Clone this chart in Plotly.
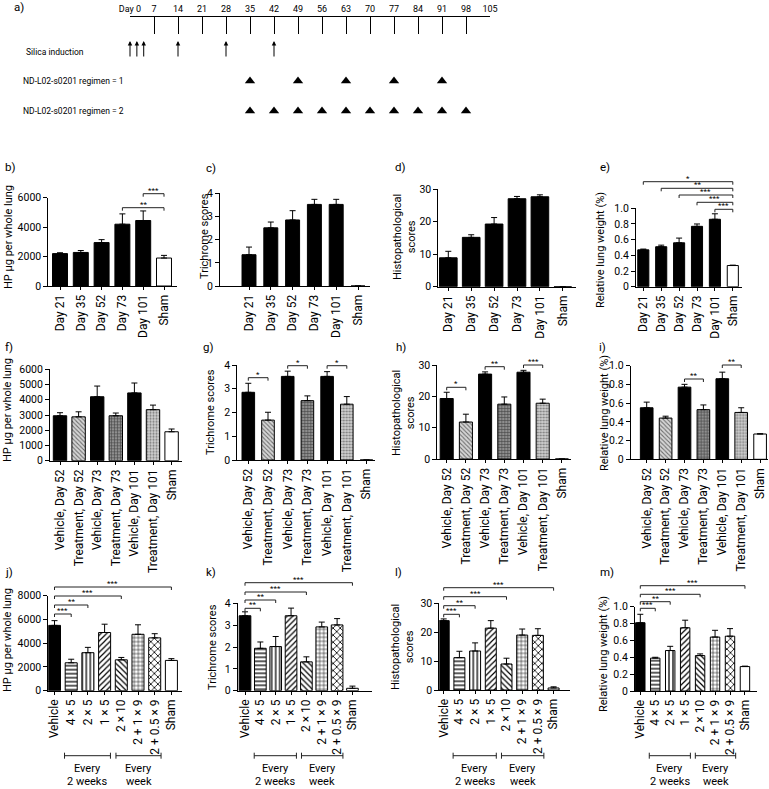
import plotly.graph_objects as go

W, H = 769, 789
FONT = "Roboto, Liberation Sans, Lato, sans-serif"

# ---------------- DATA ----------------
timeline_days = [0, 7, 14, 21, 28, 35, 42, 49, 56, 63, 70, 77, 84, 91, 98, 105]
timeline_labels = ["Day 0"] + [str(d) for d in timeline_days[1:]]
silica_days = [0, 2, 4, 14, 28, 42]
regimen1_days = [35, 49, 63, 77, 91]
regimen2_days = [35, 42, 49, 56, 63, 70, 77, 84, 91, 98]

time_cats = ["Day 21", "Day 35", "Day 52", "Day 73", "Day 101", "Sham"]
b_hp = [2200, 2280, 2950, 4200, 4450, 1900]
b_err = [60, 130, 200, 700, 650, 180]
c_tri = [1.35, 2.51, 2.85, 3.52, 3.52, 0]
c_err = [0.33, 0.25, 0.40, 0.22, 0.22, 0]
d_hist = [8.9, 15.2, 19.3, 27.1, 27.7, 0]
d_err = [2.0, 0.8, 2.0, 0.7, 0.6, 0]
e_rlw = [0.47, 0.51, 0.56, 0.77, 0.86, 0.27]
e_err = [0.01, 0.02, 0.06, 0.03, 0.07, 0.005]

trt_cats = ["Vehicle, Day 52", "Treatment, Day 52", "Vehicle, Day 73", "Treatment, Day 73",
            "Vehicle, Day 101", "Treatment, Day 101", "Sham"]
f_hp = [2950, 2880, 4200, 2950, 4450, 3350, 1900]
f_err = [200, 330, 700, 180, 650, 300, 180]
g_tri = [2.85, 1.68, 3.52, 2.50, 3.52, 2.35, 0]
g_err = [0.38, 0.33, 0.22, 0.20, 0.20, 0.32, 0]
h_hist = [19.3, 11.8, 27.1, 17.5, 27.7, 17.8, 0]
h_err = [2.0, 2.5, 0.7, 2.3, 0.6, 1.3, 0]
i_rlw = [0.55, 0.44, 0.77, 0.53, 0.86, 0.50, 0.27]
i_err = [0.06, 0.02, 0.03, 0.05, 0.07, 0.05, 0.003]

reg_cats = ["Vehicle", "4 × 5", "2 × 5", "1 × 5", "2 × 10", "2 + 1 × 9", "2 + 0.5 × 9", "Sham"]
j_hp = [5500, 2350, 3200, 4900, 2600, 4750, 4450, 2550]
j_err = [400, 300, 450, 700, 200, 800, 350, 150]
k_tri = [3.43, 1.94, 2.02, 3.43, 1.32, 2.92, 3.01, 0.11]
k_err = [0.18, 0.29, 0.46, 0.35, 0.23, 0.22, 0.29, 0.10]
l_hist = [24.0, 11.2, 13.5, 21.4, 9.0, 19.0, 18.9, 0.7]
l_err = [0.6, 2.2, 2.8, 2.6, 2.0, 2.1, 2.3, 0.4]
m_rlw = [0.81, 0.39, 0.48, 0.75, 0.42, 0.64, 0.65, 0.29]
m_err = [0.10, 0.01, 0.05, 0.09, 0.02, 0.08, 0.09, 0.005]

time_styles = ["black"] * 5 + ["white"]
trt_styles = ["black", "hatch", "black", "grid_dark", "black", "dots", "white"]
reg_styles = ["black", "hline", "vline", "diag", "anti", "grid", "cross", "white"]

hp_title = "HP µg per whole lung"
tri_title = "Trichrome scores"
hist_title = "Histopathological<br>scores"
rlw_title = "Relative lung weight (%)"

# ---------------- STYLES ----------------
# name: (background, pattern shape, foreground, pattern size, solidity)
STYLE = {
    "black": ("black", "", "black", 4, 0.3),
    "white": ("white", "", "black", 4, 0.3),
    "hatch": ("#d6d6d6", "\\", "#6e6e6e", 3, 0.35),
    "grid_dark": ("#8e8e8e", "+", "#444444", 3, 0.35),
    "dots": ("#d2d2d2", ".", "#7a7a7a", 3, 0.4),
    "hline": ("white", "-", "black", 4, 0.32),
    "vline": ("white", "|", "black", 4, 0.32),
    "diag": ("white", "/", "black", 4, 0.3),
    "anti": ("white", "\\", "black", 4, 0.3),
    "grid": ("white", "+", "black", 4, 0.25),
    "cross": ("white", "x", "black", 5, 0.3),
}
XTICK, YTICK, TITLE, LABEL, STAR, TL = 12, 10.5, 11, 11.5, 8, 8.5

def px2x(px):
    return px / W

def px2y(py):
    return 1 - py / H

panels = [
    dict(lab="b", cats=time_cats, vals=b_hp, errs=b_err, sty=time_styles, title=hp_title,
         xL=48.3, xR=176.7, c0=60, step=20.8, bw=0.72, y0=286, yT=197.7,
         ticks=[0, 2000, 4000, 6000], tt=["0", "2000", "4000", "6000"],
         brk=[(3, 5, 207.7, "**"), (4, 5, 193.7, "***")],
         tpos=(8, 237), lpos=(3, 167)),
    dict(lab="c", cats=time_cats, vals=c_tri, errs=c_err, sty=time_styles, title=tri_title,
         xL=220, xR=370, c0=249, step=21.8, bw=0.64, y0=286, yT=193.3,
         ticks=[0, 1, 2, 3, 4], tt=["0", "1", "2", "3", "4"], brk=[],
         tpos=(205, 236), lpos=(204, 168)),
    dict(lab="d", cats=time_cats, vals=d_hist, errs=d_err, sty=time_styles, title=hist_title,
         xL=438.3, xR=576, c0=448.3, step=22.9, bw=0.77, y0=286.7, yT=189.3,
         ticks=[0, 10, 20, 30], tt=["0", "10", "20", "30"], brk=[],
         tpos=(404, 237), lpos=(393, 167)),
    dict(lab="e", cats=time_cats, vals=e_rlw, errs=e_err, sty=time_styles, title=rlw_title,
         xL=636, xR=741.7, c0=643.3, step=17.9, bw=0.62, y0=286.7, yT=208.3,
         ticks=[0, 0.2, 0.4, 0.6, 0.8, 1.0], tt=["0", "0.2", "0.4", "0.6", "0.8", "1.0"],
         brk=[(0, 5, 181.7, "*"), (1, 5, 188.3, "**"), (2, 5, 195, "***"),
              (3, 5, 202.3, "***"), (4, 5, 209.3, "***")],
         tpos=(601, 250), lpos=(598, 167)),
    dict(lab="f", cats=trt_cats, vals=f_hp, errs=f_err, sty=trt_styles, title=hp_title,
         xL=50, xR=181.7, c0=60, step=18.6, bw=0.72, y0=460.7, yT=369.3,
         ticks=[0, 1000, 2000, 3000, 4000, 5000, 6000],
         tt=["0", "1000", "2000", "3000", "4000", "5000", "6000"], brk=[],
         tpos=(7, 410), lpos=(3, 347)),
    dict(lab="g", cats=trt_cats, vals=g_tri, errs=g_err, sty=trt_styles, title=tri_title,
         xL=237.3, xR=375, c0=248.3, step=19.7, bw=0.64, y0=460, yT=365,
         ticks=[0, 1, 2, 3, 4], tt=["0", "1", "2", "3", "4"],
         brk=[(0, 1, 377.7, "*"), (2, 3, 365.7, "*"), (4, 5, 365.7, "*")],
         tpos=(211, 412), lpos=(201, 347)),
    dict(lab="h", cats=trt_cats, vals=h_hist, errs=h_err, sty=trt_styles, title=hist_title,
         xL=437.3, xR=570.7, c0=446.7, step=19.2, bw=0.68, y0=459, yT=365,
         ticks=[0, 10, 20, 30], tt=["0", "10", "20", "30"],
         brk=[(0, 1, 387.3, "*"), (2, 3, 366.7, "**"), (4, 5, 365, "***")],
         tpos=(403, 413), lpos=(394, 347)),
    dict(lab="i", cats=trt_cats, vals=i_rlw, errs=i_err, sty=trt_styles, title=rlw_title,
         xL=630.7, xR=768, c0=646.7, step=18.9, bw=0.67, y0=459.3, yT=365.6,
         ticks=[0, 0.2, 0.4, 0.6, 0.8, 1.0], tt=["0", "0.2", "0.4", "0.6", "0.8", "1.0"],
         brk=[(2, 3, 379, "**"), (4, 5, 365, "**")],
         tpos=(604, 413), lpos=(597, 347)),
    dict(lab="j", cats=reg_cats, vals=j_hp, errs=j_err, sty=reg_styles, title=hp_title,
         xL=48.3, xR=181.7, c0=54.5, step=16.7, bw=0.72, y0=690.7, yT=595.7,
         ticks=[0, 2000, 4000, 6000, 8000], tt=["0", "2000", "4000", "6000", "8000"],
         brk=[(0, 7, 587, "***"), (0, 4, 596, "***"), (0, 2, 605, "**"), (0, 1, 614, "***")],
         tpos=(7, 640), lpos=(3, 572)),
    dict(lab="k", cats=reg_cats, vals=k_tri, errs=k_err, sty=reg_styles, title=tri_title,
         xL=237.7, xR=372, c0=245, step=15.35, bw=0.76, y0=690.7, yT=603.3,
         ticks=[0, 1, 2, 3, 4], tt=["0", "1", "2", "3", "4"],
         brk=[(0, 7, 582.7, "***"), (0, 4, 592, "***"), (0, 2, 600, "**"), (0, 1, 608.3, "**")],
         tpos=(212, 647), lpos=(204, 572)),
    dict(lab="l", cats=reg_cats, vals=l_hist, errs=l_err, sty=reg_styles, title=hist_title,
         xL=439.3, xR=570, c0=443.7, step=15.7, bw=0.7, y0=690, yT=603.3,
         ticks=[0, 10, 20, 30], tt=["0", "10", "20", "30"],
         brk=[(0, 7, 587.7, "***"), (0, 4, 596.7, "***"), (0, 2, 605.7, "**"), (0, 1, 614.3, "***")],
         tpos=(402, 647), lpos=(393, 572)),
    dict(lab="m", cats=reg_cats, vals=m_rlw, errs=m_err, sty=reg_styles, title=rlw_title,
         xL=635, xR=756.7, c0=640.3, step=14.95, bw=0.63, y0=691, yT=606.7,
         ticks=[0, 0.2, 0.4, 0.6, 0.8, 1.0], tt=["0", "0.2", "0.4", "0.6", "0.8", "1.0"],
         brk=[(0, 7, 585.7, "***"), (0, 4, 594.3, "***"), (0, 2, 601.7, "**"), (0, 1, 608.3, "***")],
         tpos=(603, 654), lpos=(598, 572)),
]

fig = go.Figure()
shapes = []
annotations = []
layout_axes = {}

# ---------------- PANEL a: timeline ----------------
layout_axes["xaxis"] = dict(domain=[px2x(130), px2x(490)], range=[0, 105], side="top", anchor="y",
                            tickvals=timeline_days, ticktext=timeline_labels, ticks="inside",
                            ticklen=17, tickcolor="black", tickwidth=1, showline=True,
                            linecolor="black", linewidth=1, showgrid=False, zeroline=False,
                            tickfont=dict(size=TL + 0.5, color="black"), fixedrange=True,
                            automargin=False)
layout_axes["yaxis"] = dict(domain=[px2y(130), px2y(17)], range=[130, 17], visible=False,
                            fixedrange=True, automargin=False)
ROW_R1, ROW_R2, ARROW_TIP, ARROW_LEN = 81, 111, 41, 17
for days, row in [(regimen1_days, ROW_R1), (regimen2_days, ROW_R2)]:
    fig.add_trace(go.Scatter(x=days, y=[row] * len(days), mode="markers",
                             marker=dict(symbol="triangle-up", size=9, color="black"),
                             xaxis="x", yaxis="y", showlegend=False, hoverinfo="skip",
                             cliponaxis=False))
for d in silica_days:
    annotations.append(dict(x=d, y=ARROW_TIP, xref="x", yref="y", text="", showarrow=True,
                            ax=0, ay=ARROW_LEN, arrowhead=2, arrowsize=0.9, arrowwidth=1,
                            arrowcolor="black"))
for txt, xp, yp in [("Silica induction", 24, 52), ("ND-L02-s0201 regimen = 1", 21, 81),
                    ("ND-L02-s0201 regimen = 2", 21, 111)]:
    annotations.append(dict(x=px2x(xp), y=px2y(yp), xref="paper", yref="paper", text=txt,
                            showarrow=False, xanchor="left", yanchor="middle",
                            font=dict(size=TL, color="black")))
annotations.append(dict(x=px2x(12), y=px2y(7), xref="paper", yref="paper", text="a)",
                        showarrow=False, xanchor="left", yanchor="middle",
                        font=dict(size=LABEL, color="black")))

# ---------------- BAR PANELS ----------------
for n, p in enumerate(panels, start=2):
    xr, yr = f"x{n}", f"y{n}"
    cats = p["cats"]
    iL = (p["xL"] - p["c0"]) / p["step"]
    iR = (p["xR"] - p["c0"]) / p["step"]
    seen = []
    for s in p["sty"]:
        if s not in seen:
            seen.append(s)
    for s in seen:
        idx = [i for i, st in enumerate(p["sty"]) if st == s]
        bg, shp, fg, sz, sol = STYLE[s]
        marker = dict(color=bg, line=dict(color="black", width=1))
        if shp:
            marker["pattern"] = dict(shape=shp, fgcolor=fg, bgcolor=bg, size=sz,
                                     solidity=sol, fillmode="replace")
        fig.add_trace(go.Bar(
            x=[cats[i] for i in idx], y=[p["vals"][i] for i in idx],
            xaxis=xr, yaxis=yr, width=p["bw"], marker=marker,
            error_y=dict(type="data", array=[p["errs"][i] for i in idx],
                         arrayminus=[0] * len(idx), symmetric=False,
                         color="black", thickness=1, width=3),
            showlegend=False, hoverinfo="skip"))
    layout_axes[f"xaxis{n}"] = dict(
        domain=[px2x(p["xL"]), px2x(p["xR"])], anchor=yr, type="category",
        categoryorder="array", categoryarray=cats, range=[iL, iR],
        showline=True, linecolor="black", linewidth=1, ticks="outside", ticklen=3,
        tickcolor="black", tickangle=-90, tickfont=dict(size=XTICK, color="black"),
        showgrid=False, zeroline=False, fixedrange=True, automargin=False)
    layout_axes[f"yaxis{n}"] = dict(
        domain=[px2y(p["y0"]), px2y(p["yT"])], anchor=xr, range=[0, p["ticks"][-1]],
        tickvals=p["ticks"], ticktext=p["tt"], showline=True, linecolor="black", linewidth=1,
        ticks="outside", ticklen=4, tickcolor="black", tickfont=dict(size=YTICK, color="black"),
        showgrid=False, zeroline=False, fixedrange=True, automargin=False)
    for (a, b, ypx, stars) in p["brk"]:
        yb = px2y(ypx)
        yt = px2y(ypx + 3)
        for (x0, x1, y0_, y1_) in [(a, b, yb, yb), (a, a, yb, yt), (b, b, yb, yt)]:
            shapes.append(dict(type="line", xref=xr, yref="paper", x0=x0, x1=x1, y0=y0_, y1=y1_,
                               line=dict(color="#222", width=1)))
        annotations.append(dict(x=(a + b) / 2, y=yb, xref=xr, yref="paper", text=stars,
                                showarrow=False, xanchor="center", yanchor="bottom", yshift=-3,
                                font=dict(size=STAR, color="black")))
    annotations.append(dict(x=px2x(p["tpos"][0]), y=px2y(p["tpos"][1]), xref="paper", yref="paper",
                            text=p["title"], textangle=-90, showarrow=False, xanchor="center",
                            yanchor="middle", font=dict(size=TITLE, color="black")))
    annotations.append(dict(x=px2x(p["lpos"][0]), y=px2y(p["lpos"][1]), xref="paper", yref="paper",
                            text=p["lab"] + ")", showarrow=False, xanchor="left", yanchor="middle",
                            font=dict(size=LABEL, color="black")))
    if cats is reg_cats:
        ypx = 755.7
        for (x0, x1, l1, l2) in [(0.6, 3.35, "Every", "2 weeks"), (3.68, 6.38, "Every", "week")]:
            shapes.append(dict(type="line", xref=xr, yref="paper", x0=x0, x1=x1,
                               y0=px2y(ypx), y1=px2y(ypx), line=dict(color="#222", width=1)))
            for xe in (x0, x1):
                shapes.append(dict(type="line", xref=xr, yref="paper", x0=xe, x1=xe,
                                   y0=px2y(ypx - 3), y1=px2y(ypx + 3),
                                   line=dict(color="#222", width=1)))
            for txt, ty in [(l1, 768.5), (l2, 781.5)]:
                annotations.append(dict(x=(x0 + x1) / 2, y=px2y(ty), xref=xr, yref="paper",
                                        text=txt, showarrow=False, xanchor="center",
                                        yanchor="middle", font=dict(size=TITLE, color="black")))

fig.update_layout(
    template="none", barmode="overlay",
    width=W, height=H, margin=dict(l=0, r=0, t=0, b=0, pad=0, autoexpand=False),
    paper_bgcolor="white", plot_bgcolor="white",
    font=dict(family=FONT, color="black", size=11),
    shapes=shapes, annotations=annotations, bargap=0, **layout_axes)

fig.write_html("out.html", config={"displayModeBar": False, "staticPlot": True},
               post_script="document.body.style.margin='0';document.body.style.padding='0';"
                           "document.body.style.overflow='hidden';")
